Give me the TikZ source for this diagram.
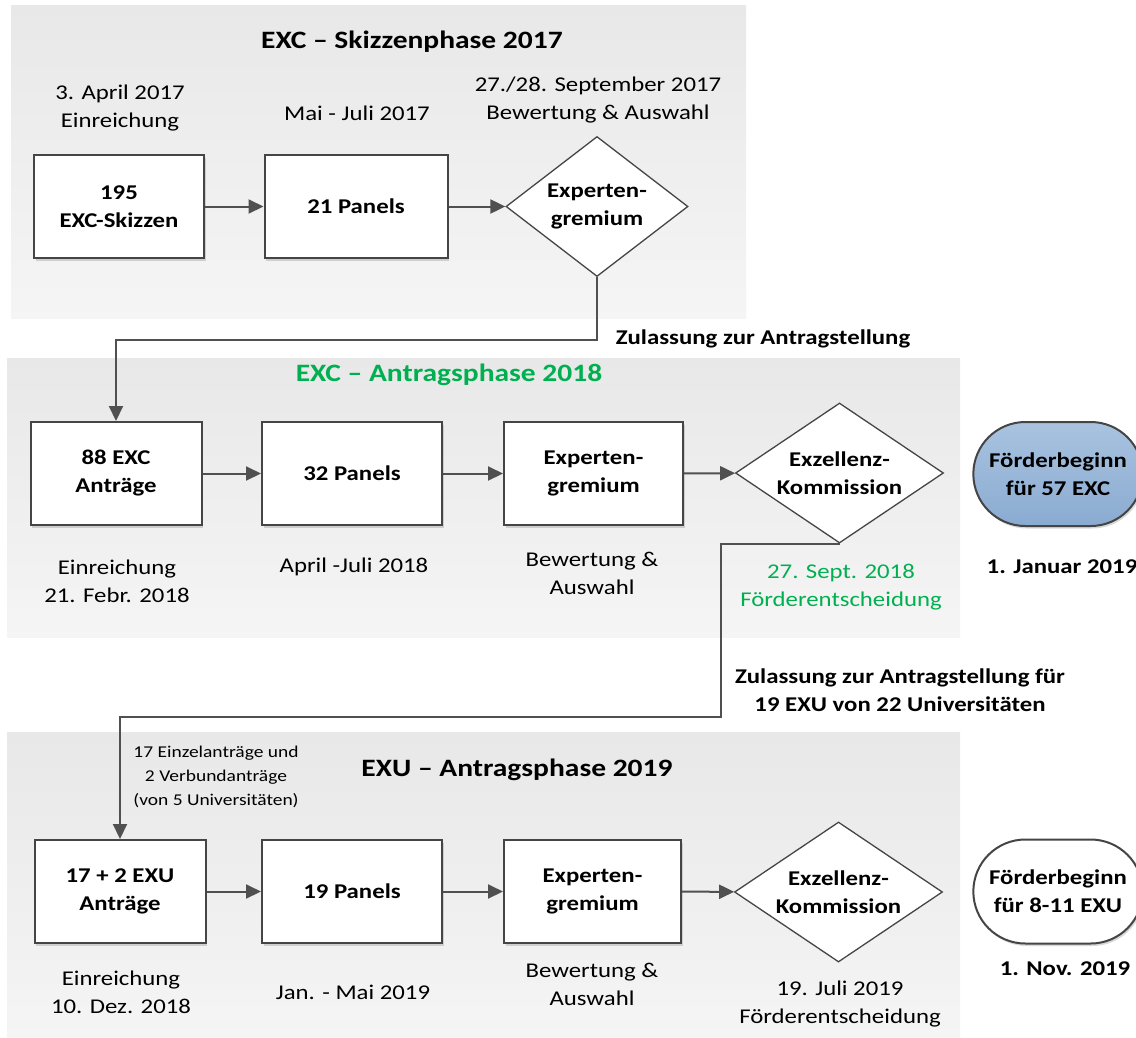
\documentclass[tikz,border=0pt]{standalone}
\usepackage{fontspec}
\setmainfont{Carlito}[FakeStretch=1.18]
\usepackage{tikz}
\usetikzlibrary{arrows.meta,shapes.geometric,shapes.misc,shadows}
\definecolor{liniengrau}{HTML}{505050}
\definecolor{randgrau}{HTML}{454545}
\definecolor{antraggruen}{HTML}{00B050}
\definecolor{hellblau}{HTML}{A9C3E0}
\definecolor{mittelblau}{HTML}{8AABD1}
\newcommand\grundschrift{\fontsize{21}{28}\selectfont}
\newcommand\titelschrift{\fontsize{25}{30}\selectfont\bfseries}
\newcommand\kleinschrift{\fontsize{16.5}{24}\selectfont}

\begin{document}
\begin{tikzpicture}[x=1pt,y=-1pt,font=\grundschrift,
  panel/.style={top color=black!9,bottom color=black!4,draw=none},
  schatten/.style={drop shadow={shadow xshift=1.5pt,shadow yshift=-2.5pt,opacity=.3}},
  kasten/.style={draw=randgrau,line width=2pt,fill=white,minimum height=103pt,
    align=center,font=\grundschrift\bfseries,schatten},
  raute/.style={diamond,draw=randgrau,line width=1.3pt,fill=white,aspect=1.5,
    inner sep=0pt,minimum height=140pt,align=center,font=\grundschrift\bfseries},
  ziel/.style={rounded rectangle,draw=randgrau,line width=2pt,minimum width=176pt,
    minimum height=104pt,align=center,font=\grundschrift\bfseries,schatten},
  notiz/.style={align=center},
  pfeil/.style={draw=liniengrau,line width=2pt,-{Triangle[length=15pt,width=14pt]}}]
\useasboundingbox (0,0) rectangle (1136,1037);
\fill[white] (0,0) rectangle (1136,1037);

\path[panel] (11,5) rectangle (746,318);
\path[panel] (7,358) rectangle (960,637);
\path[panel] (7,732) rectangle (960,1037);

% Skizzenphase
\node[font=\titelschrift] (t1) at (412,42) {EXC -- Skizzenphase 2017};
\node[kasten,minimum width=170pt] (b1) at (119,206.5) {195\\EXC-Skizzen};
\node[kasten,minimum width=183pt] (b2) at (356,206.5) {21 Panels};
\node[raute,minimum width=182pt] (d1) at (597,206.5) {Experten-\\gremium};
\node[notiz] (n1) at (120,108) {3. April 2017\\Einreichung};
\node[notiz] (n2) at (357,113) {Mai - Juli 2017};
\node[notiz] (n3) at (598,100.5) {27./28. September 2017\\Bewertung \& Auswahl};

\draw[pfeil] (b1) -- (b2);
\draw[pfeil] (b2) -- (d1);

% Antragsphase EXC
\node[font=\titelschrift,text=antraggruen] (t2) at (449,375) {EXC -- Antragsphase 2018};
\node[kasten,minimum width=171pt] (b3) at (116,473.5) {88 EXC\\Anträge};
\node[kasten,minimum width=180pt] (b4) at (352,473.5) {32 Panels};
\node[kasten,minimum width=179pt] (b5) at (593.5,473.5) {Experten-\\gremium};
\node[raute,minimum width=208pt] (d2) at (839.5,473) {Exzellenz-\\Kommission};
\node[ziel,top color=hellblau,bottom color=mittelblau] (f1) at (1058,474) {Förderbeginn\\für 57 EXC};
\node[notiz] (n4) at (117,581) {Einreichung\\21. Febr. 2018};
\node[notiz] (n5) at (354,567) {April -Juli 2018};
\node[notiz] (n6) at (592,573.5) {Bewertung \&\\Auswahl};
\node[notiz,text=antraggruen] (n7) at (841,587) {27. Sept. 2018\\Förderentscheidung};
\node[font=\grundschrift\bfseries] (n8) at (1062,567) {1. Januar 2019};

\node[font=\grundschrift\bfseries] (z1) at (763,339) {Zulassung zur Antragstellung};
\draw[pfeil] (d1.south) -- ++(0,63) -| (b3.north);

\draw[pfeil] (b3) -- (b4);
\draw[pfeil] (b4) -- (b5);
\draw[pfeil] (b5) -- (d2);

% Antragsphase EXU
\node[font=\titelschrift] (t3) at (517,770) {EXU -- Antragsphase 2019};
\node[notiz,font=\kleinschrift] (n9) at (216,777) {17 Einzelanträge und\\2 Verbundanträge\\(von 5 Universitäten)};
\node[kasten,minimum width=171pt] (b6) at (120,891.5) {17 + 2 EXU\\Anträge};
\node[kasten,minimum width=180pt] (b7) at (352,891.5) {19 Panels};
\node[kasten,minimum width=177pt] (b8) at (592.5,891.5) {Experten-\\gremium};
\node[raute,minimum width=208pt] (d3) at (838.5,892) {Exzellenz-\\Kommission};
\node[ziel,fill=white] (f2) at (1058,891.5) {Förderbeginn\\für 8-11 EXU};
\node[notiz] (n10) at (121,992) {Einreichung\\10. Dez. 2018};
\node[notiz] (n11) at (353,992) {Jan. - Mai 2019};
\node[notiz] (n12) at (592,984.5) {Bewertung \&\\Auswahl};
\node[notiz] (n13) at (840,1004.5) {19. Juli 2019\\Förderentscheidung};
\node[font=\grundschrift\bfseries] (n14) at (1065,969) {1. Nov. 2019};

\node[notiz,font=\grundschrift\bfseries] (z2) at (900,690.5) {Zulassung zur Antragstellung für\\19 EXU von 22 Universitäten};
\coordinate (knick) at (721,717);
\draw[pfeil] (d2.south) -| (knick) -| (b6.north);

\draw[pfeil] (b6) -- (b7);
\draw[pfeil] (b7) -- (b8);
\draw[pfeil] (b8) -- (d3);

\end{tikzpicture}
\end{document}
